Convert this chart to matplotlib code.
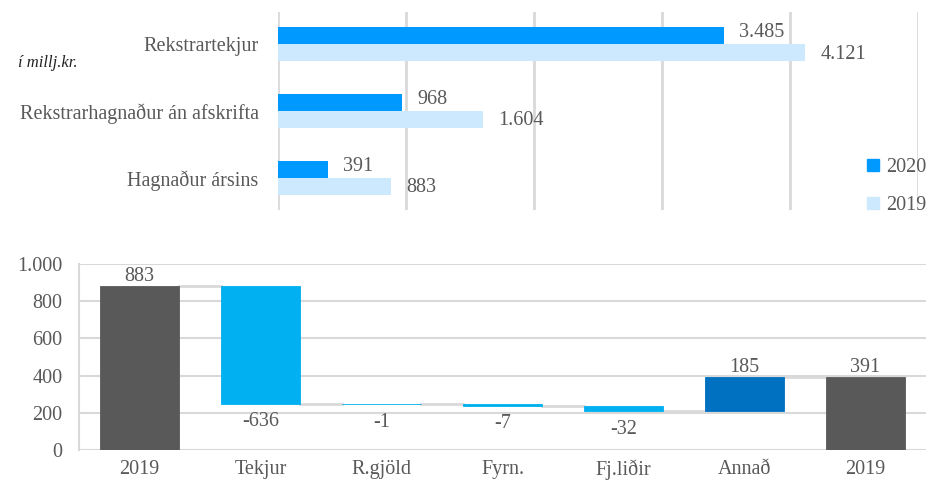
import numpy as np
import matplotlib
matplotlib.use("Agg")
import matplotlib.pyplot as plt
from matplotlib.patches import Patch

# top chart data (millj. kr.)
top_cats = ["Rekstrartekjur", "Rekstrarhagnaður án afskrifta", "Hagnaður ársins"]
vals_2020 = [3485, 968, 391]
vals_2019 = [4121, 1604, 883]
top_labels_2020 = ["3.485", "968", "391"]
top_labels_2019 = ["4.121", "1.604", "883"]

# waterfall data
wf_cats = ["2019", "Tekjur", "R.gjöld", "Fyrn.", "Fj.liðir", "Annað", "2019"]
wf_vals = [883, -636, -1, -7, -32, 185, 391]
wf_kind = ["total", "delta", "delta", "delta", "delta", "delta", "total"]
y_ticks = [0, 200, 400, 600, 800, 1000]
y_ticklabels = ["0", "200", "400", "600", "800", "1.000"]

plt.rcParams['font.family'] = ['Liberation Serif', 'DejaVu Serif']
txt = "#595959"
grid_c = "#D9D9D9"
c2020 = "#0099FF"
c2019 = "#CCE9FD"
fs = 14.5

fig = plt.figure(figsize=(9.28, 4.91), dpi=100)

############ top: horizontal bars ############
ax1 = fig.add_axes([278/928, 1-210/491, 640/928, 198/491])
y = np.arange(len(top_cats))
h = 0.255
ax1.barh(y - h/2, vals_2020, height=h, color=c2020)
ax1.barh(y + h/2, vals_2019, height=h, color=c2019)
for i in range(len(top_cats)):
    ax1.annotate(top_labels_2020[i], (vals_2020[i], y[i] - h/2), xytext=(11, 2),
                 textcoords="offset points", va="center", ha="left", fontsize=fs, color=txt)
    ax1.annotate(top_labels_2019[i], (vals_2019[i], y[i] + h/2), xytext=(11, -1),
                 textcoords="offset points", va="center", ha="left", fontsize=fs, color=txt)
ax1.set_xlim(0, 5000)
ax1.set_ylim(2.48, -0.48)
ax1.set_xticks(np.arange(0, 5001, 1000))
ax1.set_xticklabels([])
ax1.set_yticks(y)
ax1.set_yticklabels(top_cats, fontsize=fs, color=txt)
ax1.tick_params(length=0, pad=14)
ax1.grid(axis="x", color=grid_c, linewidth=2)
ax1.set_axisbelow(True)
for s in ax1.spines.values():
    s.set_visible(False)
fig.text(18/928, 1-63/491, "í millj.kr.", fontsize=12, style="italic", color="#222222", va="center")
leg = fig.legend(handles=[Patch(color=c2020, label="2020"), Patch(color=c2019, label="2019")],
                 loc="upper left", bbox_to_anchor=(867/928, 1-158/491), frameon=False,
                 fontsize=fs, handlelength=0.6, handleheight=0.6, handletextpad=0.35,
                 labelspacing=0.95, borderaxespad=0, borderpad=0)
for t in leg.get_texts():
    t.set_color(txt)

############ bottom: waterfall ############
ax2 = fig.add_axes([79/928, 1-450/491, 847/928, 186/491])
x = np.arange(len(wf_cats))
w = 0.66
bottoms, heights, colors, levels = [], [], [], []
run = 0
for v, k in zip(wf_vals, wf_kind):
    if k == "total":
        bottoms.append(0); heights.append(v); colors.append("#595959")
        run = v
    else:
        bottoms.append(min(run, run + v)); heights.append(abs(v))
        colors.append("#00B0F0" if v < 0 else "#0070C0")
        run = run + v
    levels.append(run)
ax2.bar(x, heights, bottom=bottoms, width=w, color=colors, edgecolor=colors, linewidth=0.6, zorder=3)
# connector lines between bars
for i in range(len(x) - 1):
    ax2.plot([x[i] + w/2, x[i+1] - w/2], [levels[i], levels[i]], color=grid_c, lw=2, zorder=2)
for i, v in enumerate(wf_vals):
    lab = str(v)
    if v >= 0:
        ax2.annotate(lab, (x[i], bottoms[i] + heights[i]), xytext=(0, 0), textcoords="offset points",
                     ha="center", va="bottom", fontsize=fs, color=txt)
    else:
        ax2.annotate(lab, (x[i], bottoms[i]), xytext=(0, -6), textcoords="offset points",
                     ha="center", va="top", fontsize=fs, color=txt)
ax2.set_xlim(-0.5, len(x) - 0.5)
ax2.set_ylim(0, 1000)
ax2.set_yticks(y_ticks)
ax2.set_yticklabels(y_ticklabels, fontsize=fs, color=txt)
ax2.set_xticks(x)
ax2.set_xticklabels(wf_cats, fontsize=fs, color=txt)
ax2.tick_params(axis="y", length=0, pad=12)
ax2.tick_params(axis="x", length=0, pad=7)
ax2.grid(axis="y", color=grid_c, linewidth=1.5, zorder=0)
for s in ["top", "right", "bottom"]:
    ax2.spines[s].set_visible(False)
ax2.spines["left"].set_color(grid_c)
ax2.spines["left"].set_linewidth(1.5)

fig.savefig("out.png", dpi=100)
